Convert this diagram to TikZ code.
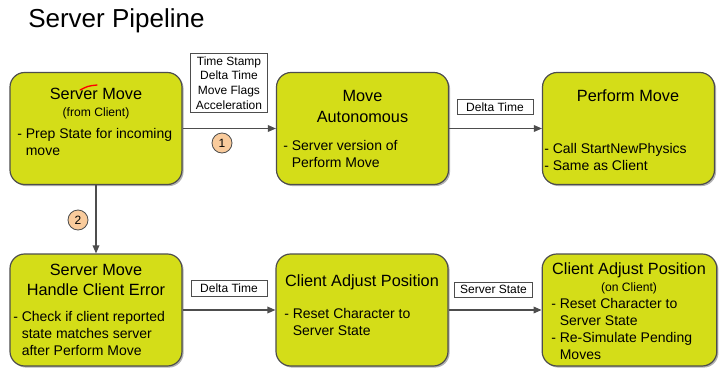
\documentclass[tikz,border=0pt]{standalone}
\usepackage{fontspec}
\setmainfont{Liberation Sans}
\usetikzlibrary{arrows.meta,shadows}
\definecolor{stagefill}{RGB}{212,221,24}
\definecolor{stageline}{RGB}{77,77,77}
\definecolor{markerfill}{RGB}{249,203,156}

\begin{document}
\begin{tikzpicture}[x=0.75pt,y=-0.75pt,
  stage/.style={draw=stageline,line width=0.9pt,fill=stagefill,rounded corners=11pt,
    minimum width=129pt,minimum height=84pt,
    drop shadow={shadow xshift=1.2pt,shadow yshift=-1.2pt,opacity=0.3,fill=black}},
  head/.style={font=\fontsize{12.2}{15.5}\selectfont,align=center,inner sep=0pt},
  sub/.style={font=\fontsize{9.1}{11}\selectfont,inner sep=0pt},
  body/.style={font=\fontsize{10.5}{12.75}\selectfont,align=left,anchor=north west,inner sep=0pt},
  tag/.style={draw=stageline,line width=0.6pt,fill=white,font=\fontsize{9}{11}\selectfont,
    align=center,inner xsep=4pt,inner ysep=2.5pt},
  marker/.style={circle,draw=stageline,fill=markerfill,line width=0.6pt,minimum size=15pt,
    inner sep=0pt,font=\fontsize{9}{9}\selectfont},
  flow/.style={draw=stageline,line width=0.9pt,-{Triangle[length=6pt,width=5pt]}}]
\useasboundingbox[fill=white] (0,0) rectangle (728,382);

\node[anchor=base west,inner sep=0pt,font=\fontsize{19.5}{22}\selectfont] (title) at (28,27) {Server Pipeline};

\node[stage] (sm) at (96,128.5) {};
\node[stage] (ma) at (362.5,128.5) {};
\node[stage] (pm) at (628.5,128.5) {};
\node[stage] (hce) at (96,310) {};
\node[stage] (cap) at (362,310) {};
\node[stage,minimum width=131pt] (capc) at (629.5,310) {};

\node[head] (sm-head) at (96,94) {Server Move};
\node[sub] (sm-sub) at (96,113) {(from Client)};
\node[body] (sm-body) at (17,128) {- Prep State for incoming\\\phantom{- }move};
\draw[red,line width=1pt,line cap=round] (80,90) .. controls (88,86) .. (97,85);

\node[head] (ma-head) at (362.5,106.5) {Move\\Autonomous};
\node[body] (ma-body) at (283,140) {- Server version of\\\phantom{- }Perform Move};

\node[head] (pm-head) at (628,96) {Perform Move};
\node[body] (pm-body) at (544,143) {- Call StartNewPhysics\\- Same as Client};

\node[head] (hce-head) at (96,280) {Server Move\\Handle Client Error};
\node[body] (hce-body) at (13,311) {- Check if client reported\\\phantom{- }state matches server\\\phantom{- }after Perform Move};

\node[head] (cap-head) at (362,282) {Client Adjust Position};
\node[body] (cap-body) at (284,308) {- Reset Character to\\\phantom{- }Server State};

\node[head] (capc-head) at (629,270) {Client Adjust Position};
\node[sub] (capc-sub) at (629,288) {(on Client)};
\node[body] (capc-body) at (551,298) {- Reset Character to\\\phantom{- }Server State\\- Re-Simulate Pending\\\phantom{- }Moves};

\draw[flow] (sm.east) -- (ma.west);
\draw[flow] (ma.east) -- (pm.west);
\draw[flow] (sm.south) -- (hce.north);
\draw[flow] (hce.east) -- (cap.west);
\draw[flow] (cap.east) -- (capc.west);

\node[tag] (move-data) at (229,83) {Time Stamp\\Delta Time\\Move Flags\\Acceleration};
\node[tag,minimum width=57pt] (dt-top) at (495,107) {Delta Time};
\node[tag,minimum width=57pt] (dt-bottom) at (229,288.5) {Delta Time};
\node[tag,minimum width=57pt] (state) at (493.5,289.5) {Server State};

\foreach \n/\p in {1/{(222,143)},2/{(78,220)}}{
\node[marker] (m\n) at \p {\n};
}
\end{tikzpicture}
\end{document}
